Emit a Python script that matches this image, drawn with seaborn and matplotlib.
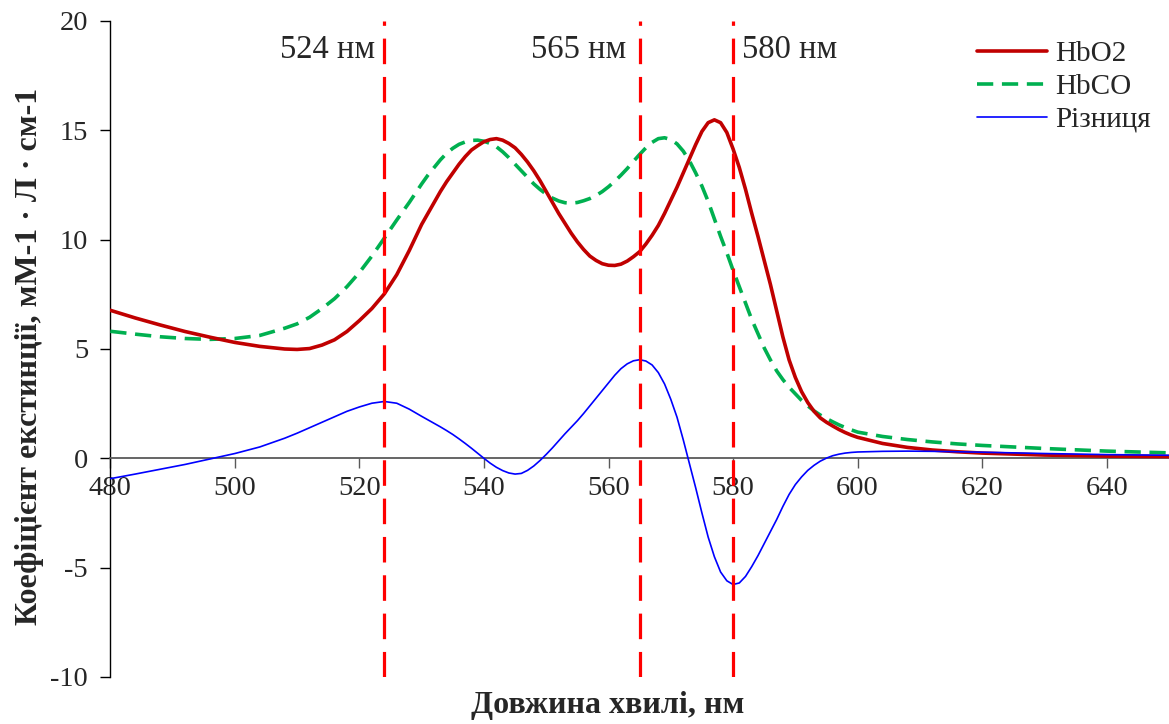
import numpy as np
import pandas as pd
import matplotlib
matplotlib.use("Agg")
import matplotlib.pyplot as plt
import seaborn as sns

# ---------------- data ----------------
wavelength = [480, 484, 488, 492, 496, 500, 504, 508, 510, 512, 514, 516, 518, 520, 522, 524, 526, 528,
              530, 531, 532, 533, 534, 535, 536, 537, 538, 539, 540, 541, 542, 543, 544, 545, 546, 547,
              548, 549, 550, 551, 552, 553, 554, 555, 556, 557, 558, 559, 560, 561, 562, 563, 564, 565,
              566, 567, 568, 569, 570, 571, 572, 573, 574, 575, 576, 577, 578, 579, 580, 581, 582, 583,
              584, 585, 586, 587, 588, 589, 590, 591, 592, 593, 594, 595, 596, 597, 598, 599, 600,
              604, 608, 612, 616, 620, 630, 640, 650]

hbo2 = [6.77, 6.42, 6.10, 5.80, 5.54, 5.30, 5.12, 5.00, 4.98, 5.02, 5.18, 5.42, 5.80, 6.30, 6.85, 7.52, 8.40, 9.50,
        10.70, 11.20, 11.70, 12.20, 12.65, 13.05, 13.45, 13.80, 14.10, 14.30, 14.48, 14.58, 14.62, 14.55, 14.40, 14.20, 13.90, 13.55,
        13.15, 12.70, 12.20, 11.70, 11.20, 10.75, 10.30, 9.90, 9.55, 9.25, 9.05, 8.90, 8.83, 8.82, 8.88, 9.02, 9.22, 9.45,
        9.80, 10.20, 10.65, 11.20, 11.80, 12.40, 13.05, 13.70, 14.35, 14.95, 15.35, 15.48, 15.35, 14.90, 14.15, 13.30, 12.30, 11.20,
        10.15, 9.05, 7.95, 6.75, 5.55, 4.50, 3.70, 3.05, 2.55, 2.15, 1.85, 1.65, 1.48, 1.32, 1.18, 1.06, 0.96,
        0.68, 0.50, 0.38, 0.30, 0.24, 0.15, 0.10, 0.08]

hbco = [5.81, 5.68, 5.56, 5.48, 5.44, 5.48, 5.62, 5.95, 6.15, 6.45, 6.85, 7.30, 7.85, 8.50, 9.25, 10.07, 10.90, 11.70,
        12.55, 12.95, 13.30, 13.65, 13.95, 14.18, 14.36, 14.47, 14.54, 14.55, 14.50, 14.40, 14.25, 14.02, 13.75, 13.45, 13.15, 12.85,
        12.55, 12.30, 12.08, 11.90, 11.77, 11.69, 11.67, 11.70, 11.78, 11.88, 12.02, 12.20, 12.42, 12.67, 12.95, 13.25, 13.58, 13.90,
        14.20, 14.45, 14.62, 14.66, 14.58, 14.38, 14.05, 13.60, 13.05, 12.45, 11.75, 10.95, 10.15, 9.40, 8.60, 7.85, 7.10, 6.35,
        5.70, 5.05, 4.50, 4.00, 3.60, 3.25, 2.95, 2.65, 2.40, 2.17, 1.98, 1.82, 1.67, 1.53, 1.41, 1.30, 1.20,
        1.00, 0.86, 0.75, 0.66, 0.59, 0.45, 0.33, 0.25]

diff = [-0.93, -0.72, -0.50, -0.28, -0.03, 0.22, 0.52, 0.92, 1.15, 1.40, 1.65, 1.90, 2.15, 2.35, 2.52, 2.60, 2.52, 2.25,
        1.92, 1.76, 1.60, 1.44, 1.27, 1.09, 0.89, 0.68, 0.46, 0.23, 0.00, -0.22, -0.41, -0.56, -0.67, -0.72, -0.69, -0.55,
        -0.35, -0.10, 0.18, 0.48, 0.80, 1.12, 1.42, 1.72, 2.05, 2.40, 2.75, 3.10, 3.45, 3.80, 4.10, 4.32, 4.46, 4.51,
        4.45, 4.27, 3.92, 3.40, 2.70, 1.88, 0.85, -0.25, -1.35, -2.50, -3.60, -4.50, -5.20, -5.60, -5.77, -5.70, -5.40, -4.95,
        -4.45, -3.90, -3.35, -2.80, -2.20, -1.65, -1.20, -0.85, -0.55, -0.32, -0.13, 0.01, 0.12, 0.19, 0.24, 0.27, 0.29,
        0.32, 0.33, 0.32, 0.30, 0.28, 0.22, 0.17, 0.14]

series_names = ["HbO2", "HbCO", "Різниця"]
marker_wavelengths = [524, 565, 580]
marker_labels = ["524 нм", "565 нм", "580 нм"]
x_ticks = [480, 500, 520, 540, 560, 580, 600, 620, 640]
y_ticks = [-10, -5, 0, 5, 10, 15, 20]

# ---------------- style ----------------
sns.set_theme(style="white")
plt.rcParams["font.family"] = ["Liberation Serif", "DejaVu Serif"]
plt.rcParams["axes.unicode_minus"] = False

fig = plt.figure(figsize=(11.69, 7.24), dpi=100)
ax = fig.add_axes([110.3 / 1169, 47 / 724, (1169 - 110.3) / 1169, 656 / 724])

df = pd.DataFrame({"x": wavelength, "HbO2": hbo2, "HbCO": hbco, "Різниця": diff})

sns.lineplot(data=df, x="x", y="HbO2", ax=ax, color="#C00000", lw=2.6,
             label=series_names[0], zorder=4)
sns.lineplot(data=df, x="x", y="HbCO", ax=ax, color="#00B050", lw=2.6,
             label=series_names[1], zorder=3, linestyle=(0, (4.5, 2.4)))
sns.lineplot(data=df, x="x", y="Різниця", ax=ax, color="#0000FF", lw=1.2,
             label=series_names[2], zorder=5)

for wl in marker_wavelengths:
    ax.axvline(wl, color="#FF0000", lw=2.3, linestyle=(0, (8, 4)), zorder=6)

# annotations
ax.text(marker_wavelengths[0] - 1.4, 18.7, marker_labels[0], ha="right", va="center", fontsize=23.5)
ax.text(marker_wavelengths[1] - 2.2, 18.7, marker_labels[1], ha="right", va="center", fontsize=23.5)
ax.text(marker_wavelengths[2] + 1.4, 18.7, marker_labels[2], ha="left", va="center", fontsize=23.5)

ax.set_xlim(480, 650)
ax.set_ylim(-10, 20)
ax.set_xticks(x_ticks)
ax.set_yticks(y_ticks)
ax.set_xticklabels([str(t) for t in x_ticks])
ax.set_yticklabels([str(t) for t in y_ticks])

ax.spines["top"].set_visible(False)
ax.spines["right"].set_visible(False)
ax.spines["bottom"].set_position(("data", 0))
ax.spines["bottom"].set_color("#595959")
ax.spines["bottom"].set_linewidth(1.3)
ax.spines["left"].set_color("black")
ax.spines["left"].set_linewidth(1.0)

ax.tick_params(axis="x", direction="out", length=7, width=1.0, color="#595959",
               labelsize=20.5, pad=6, bottom=True)
ax.tick_params(axis="y", direction="out", length=7, width=1.0, color="black",
               labelsize=20.5, pad=9, left=True)

ax.set_xlabel("Довжина хвилі, нм", fontsize=23, fontweight="bold")
ax.xaxis.set_label_coords(0.47, -0.022)
ax.xaxis.label.set_va("top")
ax.set_ylabel("Коефіцієнт екстинції, мМ-1 · Л · см-1", fontsize=23, fontweight="bold")
ax.yaxis.set_label_coords(-0.063, 0.488)

leg = ax.legend(loc="upper right", bbox_to_anchor=(0.983, 0.97), frameon=False,
                fontsize=21, handlelength=2.4, handletextpad=0.3, labelspacing=0.22,
                borderpad=0, borderaxespad=0)

fig.savefig("out.png", dpi=100)
